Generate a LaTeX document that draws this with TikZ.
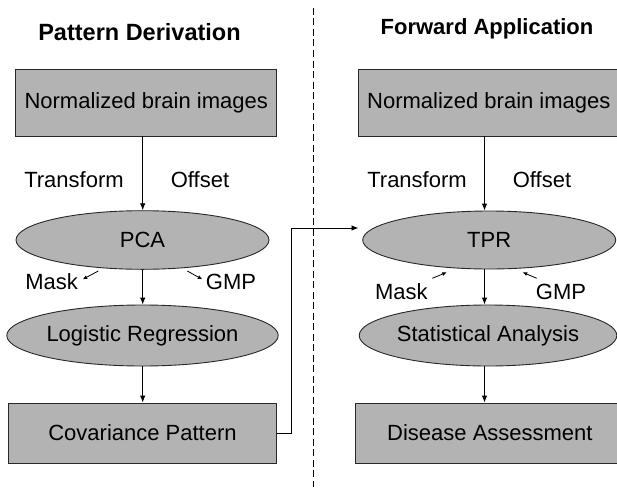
\documentclass[tikz,border=0pt]{standalone}
\usepackage{fontspec}
\setmainfont{Liberation Sans}
\usetikzlibrary{shapes.geometric,arrows.meta}
\definecolor{boxfill}{RGB}{179,179,179}
\definecolor{edge}{RGB}{40,40,40}
\begin{document}
\begin{tikzpicture}[x=1pt,y=-1pt,
  every node/.style={font=\fontsize{22}{26}\selectfont, inner sep=0pt},
  boxnode/.style={draw=edge, line width=0.9pt, fill=boxfill, rectangle, minimum height=#1},
  ellnode/.style={draw=edge, line width=0.9pt, fill=boxfill, ellipse, minimum width=253pt, minimum height=#1},
  titlenode/.style={font=\fontsize{#1}{26}\selectfont\bfseries},
  flow/.style={draw=black, line width=0.9pt, -{Latex[length=7pt,width=5.5pt]}},
  small/.style={draw=black, line width=0.8pt, -{Latex[length=4.5pt,width=4pt]}}
]
\useasboundingbox (0,0) rectangle (617,487);
% divider
\draw[dashed, line width=0.8pt, dash pattern=on 7pt off 3.5pt] (313.5,8) -- (313.5,487);
% titles
\node[titlenode=23.5] (t1) at (139.5,32) {Pattern Derivation};
\node[titlenode=22] (t2) at (487,29) {Forward Application};
% left column
\node[boxnode=67pt, minimum width=261pt] (nbi1) at (146.2,102.5) {Normalized brain images};
\node (tr1) at (74,180) {Transform};
\node (of1) at (200,180) {Offset};
\node[ellnode=58.6pt] (pca) at (142.5,240) {PCA};
\node (mask1) at (51.7,282) {Mask};
\node (gmp1) at (231,282) {GMP};
\node[ellnode=61pt] (logit) at (142.5,335.5) {Logistic Regression};
\node[boxnode=60pt, minimum width=268.4pt] (cov) at (142.5,433) {Covariance Pattern};
% right column
\node[boxnode=67pt, minimum width=261pt] (nbi2) at (488.8,102.5) {Normalized brain images};
\node (tr2) at (417,180) {Transform};
\node (of2) at (542,180) {Offset};
\node[ellnode=58pt] (tpr) at (489.2,240) {TPR};
\node (mask2) at (401.3,292) {Mask};
\node (gmp2) at (561,292) {GMP};
\node[ellnode=61pt, minimum width=252.3pt] (stat) at (488,335.5) {Statistical Analysis};
\node[boxnode=60pt, minimum width=268.4pt] (dis) at (489.9,433) {Disease Assessment};
% helper coordinates
\coordinate (axL) at (142.7,0);
\coordinate (axR) at (484.5,0);
\coordinate (jog) at (291,228);
\coordinate (tprin) at (358.5,228);
\coordinate (m1a) at (98.3,271);   \coordinate (m1b) at (82.7,279.3);
\coordinate (g1a) at (187.3,271);  \coordinate (g1b) at (202.3,279.3);
\coordinate (m2a) at (432.3,278.3); \coordinate (m2b) at (446.7,272.3);
\coordinate (g2a) at (536.7,278.3); \coordinate (g2b) at (522.7,272.3);
% left flow
\draw[flow] (nbi1.south -| axL) -- (pca.north -| axL);
\draw[flow] (pca.south -| axL) -- (logit.north -| axL);
\draw[flow] (logit.south -| axL) -- (cov.north -| axL);
% right flow
\draw[flow] (nbi2.south -| axR) -- (tpr.north -| axR);
\draw[flow] (tpr.south -| axR) -- (stat.north -| axR);
\draw[flow] (stat.south -| axR) -- (dis.north -| axR);
% cross connector
\draw[flow] (cov.east) -| (jog) -- (tprin);
% small arrows
\draw[small] (m1a) -- (m1b);
\draw[small] (g1a) -- (g1b);
\draw[small] (m2a) -- (m2b);
\draw[small] (g2a) -- (g2b);
\end{tikzpicture}
\end{document}
